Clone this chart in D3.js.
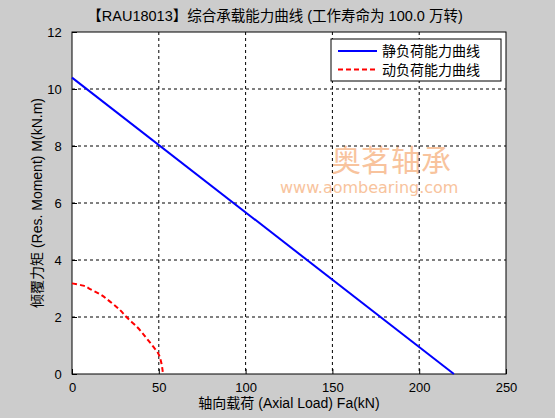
<!DOCTYPE html>
<html>
<head>
<meta charset="utf-8">
<script src="https://cdn.jsdelivr.net/npm/d3@7"></script>
<style>
  body { margin: 0; background: #cccccc; }
  svg { display: block; font-family: Arial, "Liberation Sans", "Noto Sans CJK SC", sans-serif; }
</style>
</head>
<body>
<div id="chart"></div>
<script>
// static load capacity (straight line)
const staticLoad = [0, 220];
const staticMoment = [10.4, 0];
// dynamic load capacity (curve)
const dynLoad = [0, 6.5, 10.4, 16.1, 21.9, 27.6, 31.5, 37.3, 43.0, 46.8, 49.7, 51.3, 52.2, 52.4];
const dynMoment = [3.18, 3.1, 2.98, 2.8, 2.54, 2.25, 1.99, 1.66, 1.25, 0.96, 0.72, 0.43, 0.12, 0];

const xTicks = [0, 50, 100, 150, 200, 250];
const yTicks = [0, 2, 4, 6, 8, 10, 12];
const seriesNames = ["静负荷能力曲线", "动负荷能力曲线"];

const svgWidth = 555;
const svgHeight = 418;
const margin = { top: 32, right: 49, bottom: 44, left: 72 };
const width = svgWidth - margin.left - margin.right;
const height = svgHeight - margin.top - margin.bottom;

const svg = d3.select("#chart")
    .append("svg")
    .attr("width", svgWidth)
    .attr("height", svgHeight);

svg.append("rect")
    .attr("width", svgWidth)
    .attr("height", svgHeight)
    .attr("fill", "#cccccc");

const chart = svg.append("g")
    .attr("transform", `translate(${margin.left},${margin.top})`);

const x = d3.scaleLinear().domain([0, 250]).range([0, width]);
const y = d3.scaleLinear().domain([0, 12]).range([height, 0]);

chart.append("rect")
    .attr("width", width)
    .attr("height", height)
    .attr("fill", "white");

// watermark
chart.append("text")
    .attr("x", 331 - margin.left)
    .attr("y", 171 - margin.top)
    .attr("font-family", "'Noto Sans CJK SC', sans-serif")
    .attr("font-size", 30)
    .attr("fill", "#f7b98c")
    .attr("opacity", 0.85)
    .text("奥茗轴承");
chart.append("text")
    .attr("x", 280 - margin.left)
    .attr("y", 193 - margin.top)
    .attr("font-family", "'DejaVu Sans', sans-serif")
    .attr("font-size", 16)
    .attr("fill", "#f7b98c")
    .attr("opacity", 0.85)
    .text("www.aombearing.com");

// grid
chart.selectAll(".xgrid")
    .data(xTicks.slice(1, -1))
    .join("line")
    .attr("x1", d => x(d)).attr("x2", d => x(d))
    .attr("y1", 0).attr("y2", height)
    .attr("stroke", "black")
    .attr("stroke-width", 1)
    .attr("stroke-dasharray", "3,3");
chart.selectAll(".ygrid")
    .data(yTicks.slice(1, -1))
    .join("line")
    .attr("x1", 0).attr("x2", width)
    .attr("y1", d => y(d)).attr("y2", d => y(d))
    .attr("stroke", "black")
    .attr("stroke-width", 1)
    .attr("stroke-dasharray", "3,3");

// axes (inward ticks like MATLAB)
const xAxis = chart.append("g")
    .attr("transform", `translate(0,${height})`)
    .call(d3.axisBottom(x).tickValues(xTicks).tickSizeInner(-5).tickSizeOuter(0).tickPadding(10));
const yAxis = chart.append("g")
    .call(d3.axisLeft(y).tickValues(yTicks).tickSizeInner(-5).tickSizeOuter(0).tickPadding(9));
[xAxis, yAxis].forEach(g => {
  g.select(".domain").remove();
  g.selectAll("text").attr("font-size", 13).attr("fill", "black")
      .attr("font-family", "Arial, 'Liberation Sans', sans-serif");
});
xAxis.selectAll("text").attr("dy", "0.6em");
yAxis.selectAll("text").attr("dx", "-0.1em");

chart.append("rect")
    .attr("width", width)
    .attr("height", height)
    .attr("fill", "none")
    .attr("stroke", "black")
    .attr("stroke-width", 1);

// data lines
const staticData = staticLoad.map((d, i) => [d, staticMoment[i]]);
const dynData = dynLoad.map((d, i) => [d, dynMoment[i]]);
const line = d3.line().x(d => x(d[0])).y(d => y(d[1]));

chart.append("path")
    .datum(staticData)
    .attr("fill", "none")
    .attr("stroke", "#0000ff")
    .attr("stroke-width", 2)
    .attr("d", line);

chart.append("path")
    .datum(dynData)
    .attr("fill", "none")
    .attr("stroke", "#ff0000")
    .attr("stroke-width", 2)
    .attr("stroke-dasharray", "5,3")
    .attr("d", line.curve(d3.curveMonotoneY));

// legend
const legend = svg.append("g").attr("transform", "translate(331,39)");
legend.append("rect")
    .attr("width", 170)
    .attr("height", 42)
    .attr("fill", "white")
    .attr("stroke", "black");
const colors = ["#0000ff", "#ff0000"];
const dashes = [null, "5,3"];
seriesNames.forEach((name, i) => {
  legend.append("line")
      .attr("x1", 7).attr("x2", 46)
      .attr("y1", 12 + i * 18.5).attr("y2", 12 + i * 18.5)
      .attr("stroke", colors[i])
      .attr("stroke-width", 2)
      .attr("stroke-dasharray", dashes[i]);
  legend.append("text")
      .attr("x", 51)
      .attr("y", 12 + i * 18.5)
      .attr("dy", "0.36em")
      .attr("font-size", 14)
      .attr("font-family", "'Noto Sans CJK SC', sans-serif")
      .text(name);
});

// title and axis labels
svg.append("text")
    .attr("x", 275)
    .attr("y", 21)
    .attr("text-anchor", "middle")
    .attr("font-size", 14.5)
    .attr("font-family", "Arial, 'Noto Sans CJK SC', sans-serif")
    .text("【RAU18013】综合承载能力曲线 (工作寿命为 100.0 万转)");

svg.append("text")
    .attr("x", margin.left + width / 2)
    .attr("y", 408)
    .attr("text-anchor", "middle")
    .attr("font-size", 14)
    .attr("font-family", "Arial, 'Noto Sans CJK SC', sans-serif")
    .text("轴向载荷 (Axial Load) Fa(kN)");

svg.append("text")
    .attr("transform", `translate(42,${margin.top + height / 2}) rotate(-90)`)
    .attr("text-anchor", "middle")
    .attr("font-size", 14)
    .attr("font-family", "Arial, 'Noto Sans CJK SC', sans-serif")
    .text("倾覆力矩 (Res. Moment) M(kN.m)");
</script>
</body>
</html>
